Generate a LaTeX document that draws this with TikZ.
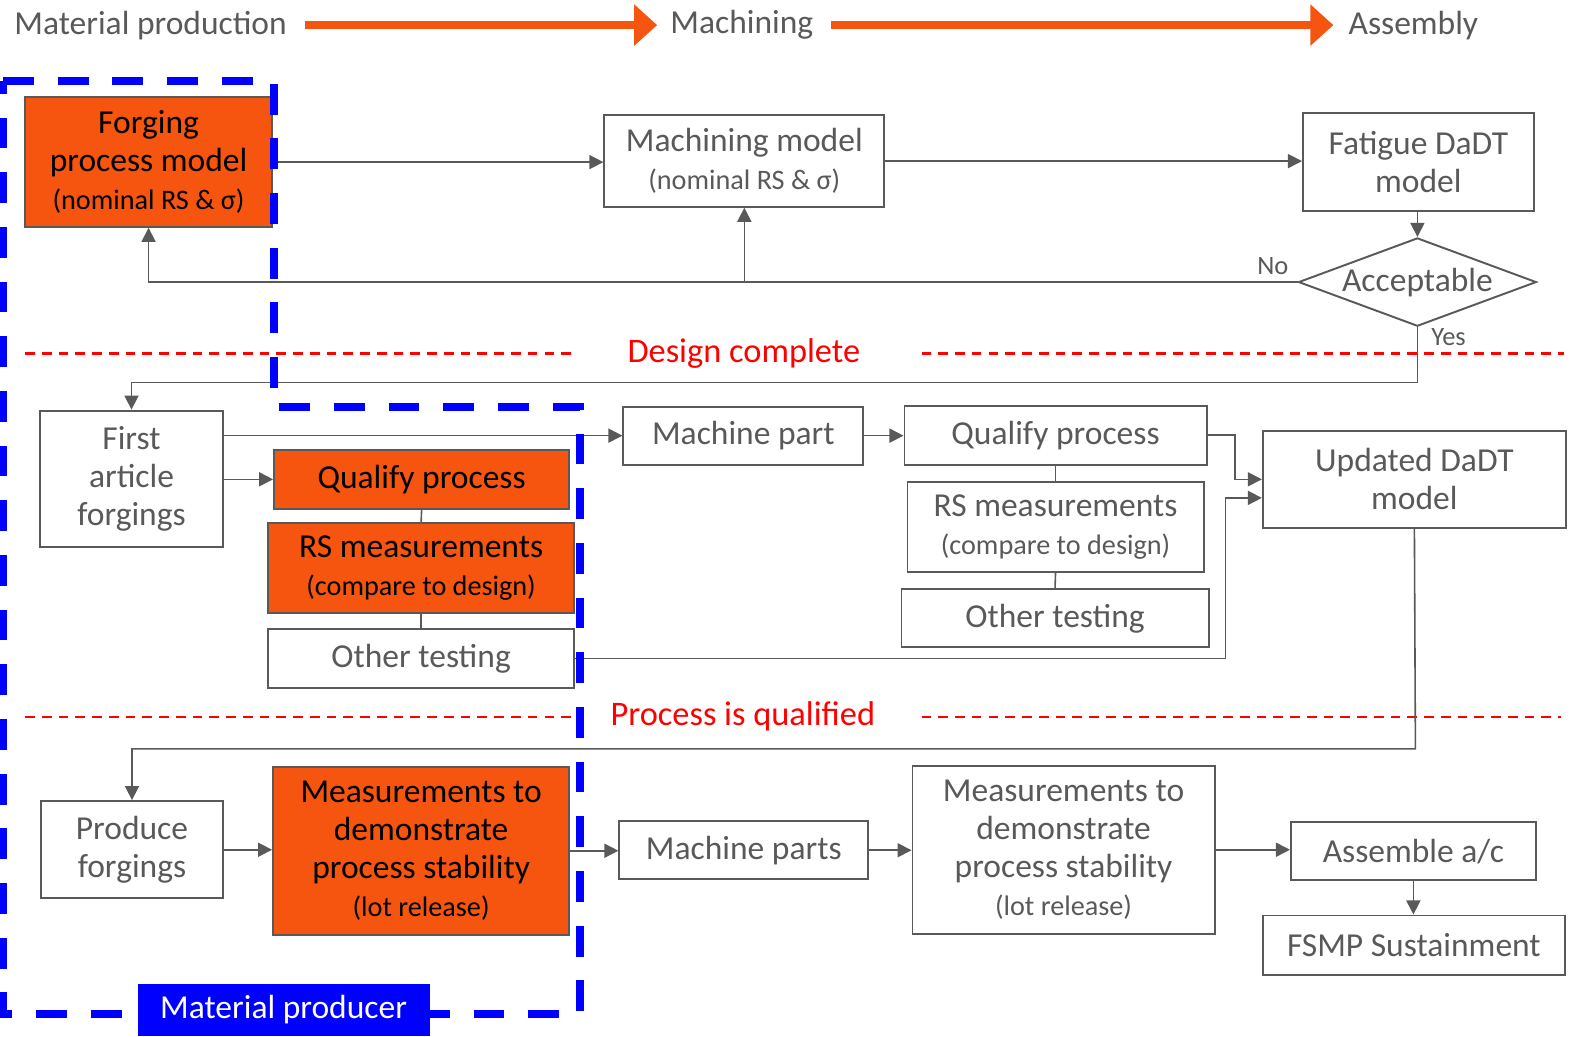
\documentclass[tikz,border=0pt]{standalone}
\usepackage{fontspec}
\setmainfont{Carlito}
\usetikzlibrary{arrows.meta,shapes.geometric,calc}
\definecolor{boxgray}{HTML}{595959}
\definecolor{hot}{HTML}{F5550F}
\definecolor{prodblue}{HTML}{0000FF}
\newcommand{\subline}[1]{{\fontsize{16}{19}\selectfont #1}}
\tikzset{
  box/.style={draw=boxgray, line width=1.1pt, text=boxgray, align=center, inner sep=0pt, font=\fontsize{19}{21.5}\selectfont},
  hotbox/.style={box, fill=hot, text=black},
  flow/.style={draw=boxgray, line width=0.9pt, -{Triangle[length=0.28cm,width=0.28cm]}},
  link/.style={draw=boxgray, line width=0.9pt},
  plain/.style={text=boxgray, font=\fontsize{19}{21.5}\selectfont},
  small/.style={text=boxgray, font=\fontsize{15}{18}\selectfont},
  phase/.style={draw=hot, line width=4.5pt, -{Triangle[length=0.46cm,width=0.8cm]}},
  milestone/.style={text=red, font=\fontsize{19.5}{22}\selectfont},
  mile/.style={red, line width=1.4pt, dash pattern=on 5.5pt off 4pt},
  producer/.style={draw=prodblue, line width=4.5pt, dash pattern=on 17.5pt off 13.5pt},
  tag/.style={fill=prodblue, text=white, minimum width=5.82cm, minimum height=1.04cm, inner sep=0pt, font=\fontsize{19}{21.5}\selectfont}
}

\begin{document}
\begin{tikzpicture}[x=0.02cm, y=-0.02cm]
\useasboundingbox (0,0) rectangle (1568,1033);

% phases along the top
\node[plain] (hmat) at (150,25) {Material production};
\node[plain] (hmach) at (739,25) {Machining};
\node[plain] (hasm) at (1408,25) {Assembly};
\draw[phase, shorten <=0.24cm, shorten >=0.14cm] (hmat.east) -- (hmach.west);
\draw[phase, shorten <=0.22cm, shorten >=0.18cm] (hmach.east) -- (hasm.west);

% design loop
\node[hotbox, minimum width=4.92cm, minimum height=2.58cm] (forge) at (148,161.5) {Forging\\process model\\\subline{(nominal RS \& σ)}};
\node[box, minimum width=5.58cm, minimum height=1.82cm] (mmodel) at (741.5,160.5) {Machining model\\\subline{(nominal RS \& σ)}};
\node[box, minimum width=4.6cm, minimum height=1.94cm] (fatigue) at (1413,161.5) {Fatigue DaDT\\model};
\node[box, diamond, aspect=2.7, minimum width=4.74cm, minimum height=1.76cm] (accept) at (1412,281) {Acceptable};

\draw[flow] (forge.east) -- (forge.east -| mmodel.west);
\draw[flow] (mmodel.east) -- (mmodel.east -| fatigue.west);
\draw[flow] (fatigue.south -| accept.north) -- (accept.north);
\draw[flow] (accept.west) -| (forge.south);
\draw[flow] (accept.west -| mmodel.south) -- (mmodel.south);
\node[small] (no) at (1268,265) {No};
\node[small] (yes) at (1443,336) {Yes};

% design complete
\node[milestone] (design) at (741,352) {Design complete};
\draw[mile] (25,352) -- (570,352);
\draw[mile] (918,352) -- (1558,352);

% first articles
\node[box, minimum width=3.64cm, minimum height=2.72cm] (first) at (131,477) {First\\article\\forgings};
\node[hotbox, minimum width=5.88cm, minimum height=1.18cm] (qual1) at (420,477.5) {Qualify process};
\node[hotbox, minimum width=6.1cm, minimum height=1.8cm] (rs1) at (419.5,566) {RS measurements\\\subline{(compare to design)}};
\node[box, minimum width=6.1cm, minimum height=1.16cm] (oth1) at (419.5,656) {Other testing};
\node[box, minimum width=4.78cm, minimum height=1.16cm] (mpart) at (740.5,434) {Machine part};
\node[box, minimum width=6.02cm, minimum height=1.18cm] (qual2) at (1051.5,433.5) {Qualify process};
\node[box, minimum width=5.9cm, minimum height=1.8cm] (rs2) at (1051.5,525) {RS measurements\\\subline{(compare to design)}};
\node[box, minimum width=6.12cm, minimum height=1.16cm] (oth2) at (1051,616) {Other testing};
\node[box, minimum width=6.04cm, minimum height=1.94cm] (upd) at (1409,477.5) {Updated DaDT\\model};

\coordinate (yesturn) at (1412,381);
\draw[flow] (accept.south) -- (yesturn) -| (first.north);
\foreach \a/\b in {qual1/rs1, rs1/oth1, qual2/rs2, rs2/oth2}
    \draw[link] (\a.south) -- (\b.north);
\draw[flow] (first.east |- mpart.west) -- (mpart.west);
\draw[flow] (first.east |- qual1.west) -- (qual1.west);
\draw[flow] (mpart.east) -- (mpart.east -| qual2.west);
\coordinate (qturn) at (1230,433.5);
\draw[flow] (qual2.east) -- (qturn) |- (upd.west);
\coordinate (oturn) at (1221,656);
\draw[flow] (oth1.east) -- (oturn) |- ([yshift=-0.37cm]upd.west);

% process is qualified
\node[milestone] (qualified) at (740,714) {Process is qualified};
\draw[mile] (25,714) -- (572,714);
\draw[mile] (918,714) -- (1555,714);

% production
\node[box, minimum width=3.62cm, minimum height=1.94cm] (prod) at (131.5,846.5) {Produce\\forgings};
\node[hotbox, minimum width=5.9cm, minimum height=3.34cm] (meas1) at (419.5,847.5) {Measurements to\\demonstrate\\process stability\\\subline{(lot release)}};
\node[box, minimum width=4.96cm, minimum height=1.16cm] (mparts) at (741,847) {Machine parts};
\node[box, minimum width=6.02cm, minimum height=3.34cm] (meas2) at (1059.5,846.5) {Measurements to\\demonstrate\\process stability\\\subline{(lot release)}};
\node[box, minimum width=4.88cm, minimum height=1.16cm] (assem) at (1408,848) {Assemble a/c};
\node[box, minimum width=6.02cm, minimum height=1.18cm] (fsmp) at (1408.5,941.5) {FSMP Sustainment};

\coordinate (uturn) at (1410,746);
\draw[flow] (upd.south) -- (uturn) -| (prod.north);
\draw[flow] (prod.east) -- (prod.east -| meas1.west);
\draw[flow] (meas1.east) -- (meas1.east -| mparts.west);
\draw[flow] (mparts.east) -- (mparts.east -| meas2.west);
\draw[flow] (meas2.east) -- (meas2.east -| assem.west);
\draw[flow] (assem.south) -- (assem.south |- fsmp.north);

% material producer region
\draw[producer] (3,81) -- (273,81) -- (273,405) -- (578,405) -- (578,1010) -- (3,1010) -- cycle;
\node[tag] (maker) at (282.5,1006) {Material producer};
\end{tikzpicture}
\end{document}
